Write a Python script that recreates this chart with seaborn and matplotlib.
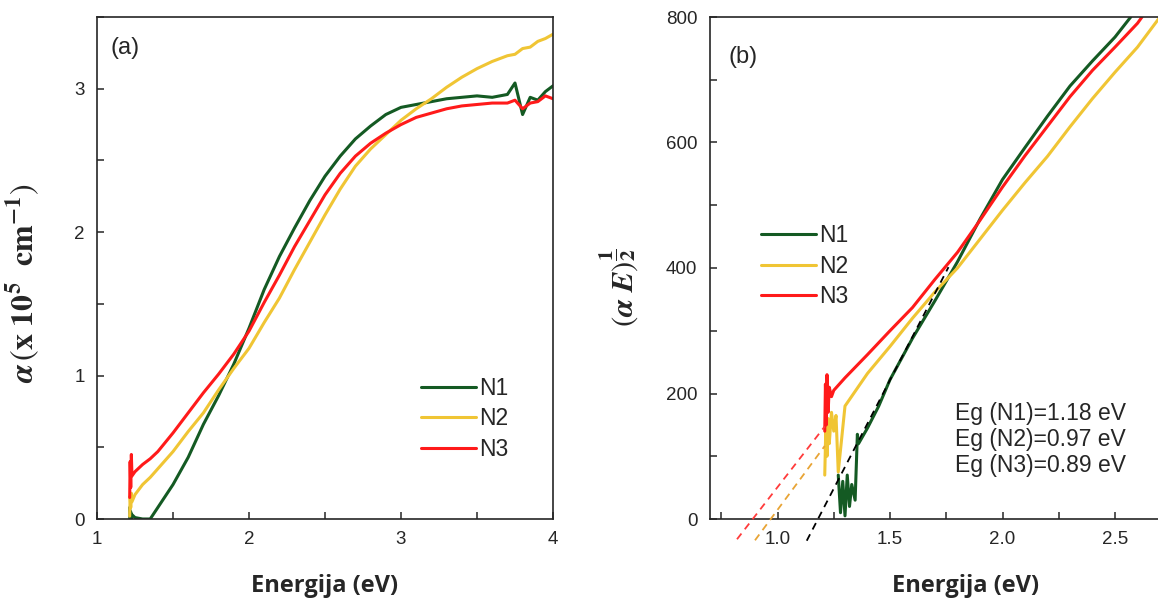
import matplotlib
matplotlib.use("Agg")
import matplotlib.pyplot as plt
from matplotlib.ticker import MultipleLocator
import seaborn as sns
import pandas as pd

sns.set_style("ticks")
plt.rcParams['font.family'] = ['Liberation Sans', 'DejaVu Sans']
plt.rcParams['mathtext.fontset'] = 'stix'

# ---- panel (a): absorption coefficient, x 10^5 cm^-1 ----
E_a = [1.215, 1.218, 1.222, 1.226, 1.23, 1.25, 1.3, 1.35, 1.4, 1.5, 1.6, 1.7, 1.8, 1.9, 2.0,
       2.1, 2.2, 2.3, 2.4, 2.5, 2.6, 2.7, 2.8, 2.9, 3.0, 3.1, 3.2, 3.3, 3.4, 3.5,
       3.6, 3.7, 3.75, 3.8, 3.85, 3.9, 3.95, 4.0]
a_N1 = [0.08, 0.0, 0.05, 0.0, 0.03, 0.01, 0.0, 0.0, 0.08, 0.24, 0.43, 0.66, 0.86, 1.08, 1.33,
        1.60, 1.83, 2.03, 2.22, 2.39, 2.53, 2.65, 2.74, 2.82, 2.87, 2.89, 2.91, 2.93, 2.94, 2.95,
        2.94, 2.96, 3.04, 2.82, 2.94, 2.92, 2.98, 3.02]
a_N2 = [0.02, 0.16, 0.08, 0.18, 0.12, 0.17, 0.24, 0.29, 0.35, 0.47, 0.61, 0.74, 0.90, 1.05, 1.19,
        1.37, 1.54, 1.74, 1.93, 2.12, 2.30, 2.46, 2.58, 2.68, 2.78, 2.86, 2.93, 3.01, 3.08, 3.14,
        3.19, 3.23, 3.24, 3.28, 3.29, 3.33, 3.35, 3.38]
a_N3 = [0.15, 0.40, 0.22, 0.45, 0.30, 0.33, 0.38, 0.42, 0.47, 0.60, 0.74, 0.88, 1.01, 1.15, 1.31,
        1.51, 1.70, 1.90, 2.08, 2.26, 2.41, 2.53, 2.62, 2.69, 2.75, 2.80, 2.83, 2.86, 2.88, 2.89,
        2.90, 2.90, 2.92, 2.86, 2.90, 2.91, 2.95, 2.93]

# ---- panel (b): Tauc plot (alpha E)^(1/2) ----
E_b1 = [1.27, 1.28, 1.29, 1.30, 1.31, 1.32, 1.33, 1.345, 1.355, 1.36, 1.4, 1.45, 1.5, 1.6, 1.7,
        1.8, 1.9, 2.0, 2.1, 2.2, 2.3, 2.4, 2.5, 2.57]
b_N1 = [70, 10, 60, 5, 70, 20, 55, 30, 135, 120, 145, 180, 222, 288, 348,
        410, 478, 541, 592, 642, 690, 730, 768, 800]
E_b2 = [1.21, 1.215, 1.22, 1.225, 1.23, 1.24, 1.25, 1.26, 1.27, 1.3, 1.4, 1.5, 1.6, 1.7,
        1.8, 1.9, 2.0, 2.1, 2.2, 2.3, 2.4, 2.5, 2.6, 2.7]
b_N2 = [70, 150, 100, 160, 120, 170, 140, 165, 75, 180, 232, 275, 320, 362,
        400, 446, 492, 536, 578, 625, 670, 712, 752, 800]
E_b3 = [1.21, 1.213, 1.217, 1.22, 1.225, 1.23, 1.24, 1.25, 1.3, 1.4, 1.5, 1.6, 1.7,
        1.8, 1.9, 2.0, 2.1, 2.2, 2.3, 2.4, 2.5, 2.6, 2.62]
b_N3 = [140, 215, 150, 230, 170, 210, 195, 205, 225, 262, 300, 337, 382,
        425, 476, 529, 579, 626, 673, 715, 752, 790, 800]

# Tauc fits: band gap (x intercept) and slope
Eg = {"N1": 1.18, "N2": 0.97, "N3": 0.89}
fit_slope = {"N1": 692, "N2": 485, "N3": 461}
fit_range = {"N1": (1.13, 1.76), "N2": (0.90, 1.21), "N3": (0.82, 1.21)}

series = ["N1", "N2", "N3"]
colors = {"N1": "#145a23", "N2": "#f0c534", "N3": "#ff1a1a"}
fit_colors = {"N1": "black", "N2": "#e8a435", "N3": "#ff3b3b"}

df_a = pd.concat([pd.DataFrame({"E": E_a, "val": v, "Sample": s})
                  for s, v in zip(series, [a_N1, a_N2, a_N3])])
df_b = pd.concat([pd.DataFrame({"E": e, "val": v, "Sample": s})
                  for s, e, v in zip(series, [E_b1, E_b2, E_b3], [b_N1, b_N2, b_N3])])

W, H = 1158, 601
fig = plt.figure(figsize=(W / 100, H / 100), dpi=100)
ax1 = fig.add_axes([97 / W, (H - 519) / H, 456 / W, 502 / H])
ax2 = fig.add_axes([710 / W, (H - 519) / H, 450 / W, 502 / H])

sns.lineplot(data=df_a, x="E", y="val", hue="Sample", palette=colors, linewidth=2.2,
             sort=False, estimator=None, ax=ax1)
sns.lineplot(data=df_b, x="E", y="val", hue="Sample", palette=colors, linewidth=2.2,
             sort=False, estimator=None, ax=ax2)

for s in series:
    x0, x1 = fit_range[s]
    xs = [x0, x1]
    ys = [fit_slope[s] * (x - Eg[s]) for x in xs]
    ax2.plot(xs, ys, ls=(0, (4, 3)), color=fit_colors[s], lw=1.3, clip_on=False, zorder=3)

ax1.set_xlim(1, 4)
ax1.set_ylim(0, 3.5)
ax1.xaxis.set_major_locator(MultipleLocator(1))
ax1.xaxis.set_minor_locator(MultipleLocator(0.5))
ax1.yaxis.set_major_locator(MultipleLocator(1))
ax1.yaxis.set_minor_locator(MultipleLocator(0.5))

ax2.set_xlim(0.7, 2.7)
ax2.set_ylim(0, 800)
ax2.xaxis.set_major_locator(MultipleLocator(0.5))
ax2.xaxis.set_minor_locator(MultipleLocator(0.25))
ax2.yaxis.set_major_locator(MultipleLocator(200))
ax2.yaxis.set_minor_locator(MultipleLocator(100))
ax2.set_xticks([1.0, 1.5, 2.0, 2.5])
ax2.set_xticklabels(["1.0", "1.5", "2.0", "2.5"])

for ax in (ax1, ax2):
    for sp in ax.spines.values():
        sp.set_linewidth(1.2)
    ax.tick_params(which="major", direction="in", length=5, width=1.1, labelsize=13.5, pad=9,
                   top=False, right=False)
    ax.tick_params(which="minor", direction="in", length=5, width=1.1, top=False, right=False)

ax1.set_xlabel("Energija (eV)", fontsize=17, fontweight="bold", family="Open Sans")
ax2.set_xlabel("Energija (eV)", fontsize=17, fontweight="bold", family="Open Sans")
ax1.xaxis.set_label_coords(0.5, -0.11)
ax2.xaxis.set_label_coords(0.567, -0.11)

ax1.set_ylabel(r"$\mathbfit{\alpha}\,\left(\mathbf{x\ 10^{5}\ \ cm^{-1}}\right)$", fontsize=23)
ax1.yaxis.set_label_coords(-0.12, 0.47)
ax2.set_ylabel(r"$\left(\mathbfit{\alpha\ E}\right)^{\dfrac{\mathbf{1}}{\mathbf{2}}}$", fontsize=22)
ax2.yaxis.set_label_coords(-0.155, 0.46)

ax1.text(0.029, 0.938, "(a)", transform=ax1.transAxes, fontsize=17, va="center", ha="left")
ax2.text(0.04, 0.92, "(b)", transform=ax2.transAxes, fontsize=17, va="center", ha="left")

leg_kw = dict(frameon=False, fontsize=16.5, handlelength=2.4, handletextpad=0.15,
              labelspacing=0.33, borderpad=0, borderaxespad=0, loc="upper left")
h, l = ax1.get_legend_handles_labels()
ax1.legend(h, l, bbox_to_anchor=(0.71, 0.283), **leg_kw)
h, l = ax2.get_legend_handles_labels()
ax2.legend(h, l, bbox_to_anchor=(0.113, 0.587), **leg_kw)

eg_text = "\n".join(f"Eg ({s})={Eg[s]:.2f} eV" for s in series)
ax2.text(0.545, 0.158, eg_text, transform=ax2.transAxes, fontsize=16.5, va="center", ha="left",
         linespacing=1.15)

fig.savefig("out.png", dpi=100)
